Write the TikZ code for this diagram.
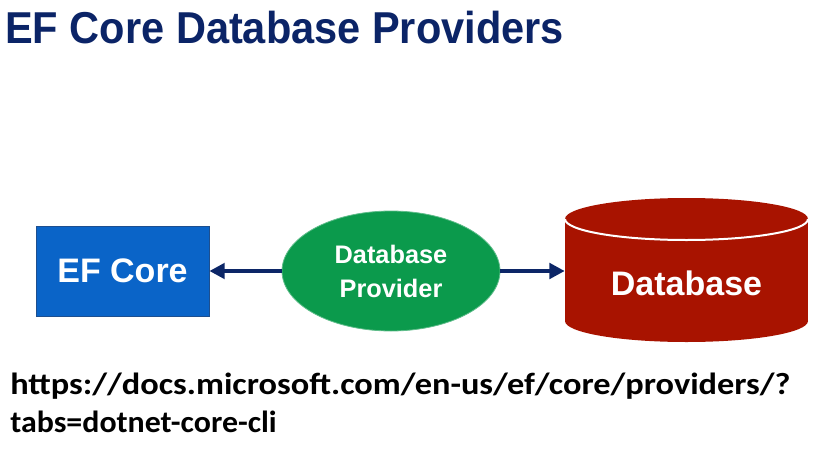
\documentclass[tikz,border=0pt]{standalone}
\usepackage{fontspec}
\setmainfont{Liberation Sans}
\newfontfamily\urlfont{Carlito}
\usetikzlibrary{arrows.meta,shapes.geometric,positioning}

\definecolor{titleblue}{HTML}{0B2467}
\definecolor{efblue}{HTML}{0A64C8}
\definecolor{efedge}{HTML}{1D4F8F}
\definecolor{provgreen}{HTML}{0B9A4C}
\definecolor{dbred}{HTML}{A81300}
\definecolor{linknavy}{HTML}{0C2667}

\tikzset{
  efbox/.style={rectangle, fill=efblue, draw=efedge, line width=0.6pt,
    minimum width=173*0.75pt, minimum height=90*0.75pt, text=white,
    font=\bfseries\fontsize{25.5}{28}\selectfont},
  provnode/.style={ellipse, fill=provgreen, draw=provgreen!65!white, line width=0.6pt,
    minimum width=218*0.75pt, minimum height=120*0.75pt, inner sep=0pt,
    text=white, align=center, font=\bfseries\fontsize{19}{25.5}\selectfont},
  dbtext/.style={inner sep=0pt, minimum width=243*0.75pt, text=white,
    font=\bfseries\fontsize{25.5}{28}\selectfont},
  link/.style={linknavy, line width=3pt, -{Triangle[length=11.5pt,width=11.5pt]}},
  urltext/.style={anchor=base west, inner sep=0pt,
    font=\urlfont\bfseries\fontsize{23}{29}\selectfont},
}

\begin{document}
\begin{tikzpicture}[x=0.75pt,y=-0.75pt]
  \useasboundingbox (0,0) rectangle (832,464);
  \def\dbx{686.5};  % centre of the cylinder
  \def\dbrx{121.5};
  \def\dbry{21};
  \def\dbtop{219};
  \def\dbbot{321};

  % heading
  \node[anchor=base west, inner sep=0pt, text=titleblue,
    font=\bfseries\fontsize{33.5}{36}\selectfont] (title) at (5,43)
    {\scalebox{0.93}[1]{EF Core Database Providers}};

  % the three parts
  \node[efbox] (ef) at (122.5,271) {EF Core};
  \node[provnode] (prov) at (391,271) {Database\\Provider};

  \fill[dbred] (\dbx,\dbbot) ellipse [x radius=\dbrx, y radius=\dbry];
  \fill[dbred] ({\dbx-\dbrx},\dbtop) rectangle ({\dbx+\dbrx},\dbbot);
  \fill[dbred] (\dbx,\dbtop) ellipse [x radius=\dbrx, y radius=\dbry];
  \draw[white, line width=1.5pt] ({\dbx-\dbrx},\dbtop)
    arc[start angle=180, end angle=0, x radius=\dbrx, y radius=\dbry];
  \node[dbtext] (db) at (\dbx,283.5) {Database};

  % arrows
  \draw[link] (prov.west) -- (ef.east);
  \draw[link] (prov.east) -- (prov.east -| db.west);

  % link below
  \node[urltext] (url1) at (10,394)
    {\scalebox{1.12}[1]{https://docs.microsoft.com/en-us/ef/core/providers/?}};
  \node[urltext] (url2) at (10,432) {\scalebox{1.04}[1]{tabs=dotnet-core-cli}};
\end{tikzpicture}
\end{document}
